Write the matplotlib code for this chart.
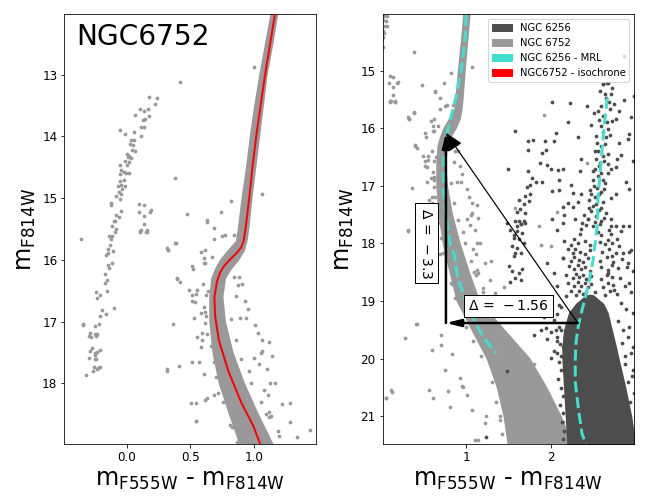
import numpy as np
import matplotlib.pyplot as plt
from matplotlib.patches import Patch

# colours
c6256 = '0.3'
c6752 = '0.6'
cMRL = 'turquoise'
cIso = 'red'

# NGC 6752 sequence (dense band, blue / red edges)
band_mag = [12.0, 12.5, 13.0, 13.5, 14.0, 14.5, 15.0, 15.5, 15.7, 15.85, 16.0, 16.15, 16.3, 16.6,
            17.0, 17.5, 18.0, 18.5, 19.0, 19.5, 20.0, 20.5, 21.0, 21.5]
band_blue = [1.14, 1.095, 1.05, 1.01, 0.975, 0.945, 0.91, 0.88, 0.865, 0.80, 0.74, 0.70, 0.67, 0.655,
             0.655, 0.68, 0.73, 0.81, 0.895, 1.07, 1.25, 1.37, 1.45, 1.50]
band_red = [1.19, 1.15, 1.105, 1.075, 1.045, 1.015, 0.985, 0.96, 0.945, 0.925, 0.88, 0.82, 0.775, 0.755,
            0.775, 0.835, 0.925, 1.035, 1.155, 1.45, 1.75, 1.95, 2.12, 2.26]

# NGC 6752 isochrone
iso_mag = [12.0, 12.5, 13.0, 13.5, 14.0, 14.5, 15.0, 15.5, 15.7, 15.8, 15.9, 16.0, 16.1, 16.2,
           16.35, 16.6, 16.9, 17.3, 17.8, 18.3, 18.7, 19.0]
iso_col = [1.17, 1.13, 1.09, 1.055, 1.02, 0.99, 0.965, 0.935, 0.92, 0.90, 0.86, 0.81, 0.765, 0.735,
           0.71, 0.69, 0.695, 0.725, 0.80, 0.90, 1.00, 1.055]

# NGC 6752 horizontal branch
hb_col = [0.171, 0.233, 0.219, 0.098, 0.132, 0.163, 0.066, 0.171, 0.140, 0.124, 0.106, 0.132,
          -0.059, -0.013, 0.053, 0.108, 0.032, 0.058, 0.021, 0.048, 0.040, 0.060, 0.0, 0.018,
          0.008, 0.029, -0.019, 0.018, 0.0, -0.059, -0.045, -0.027, -0.006, 0.013, -0.053,
          -0.059, -0.027, -0.048, -0.019, -0.071, -0.040, -0.067, -0.045, -0.087, -0.059,
          -0.130, -0.130, -0.051, -0.087, -0.067, -0.106, -0.093, -0.119, -0.087, -0.093,
          -0.146, -0.119, -0.125, -0.138, -0.154, -0.114, -0.154, -0.164, -0.122, -0.154,
          -0.146, -0.172, -0.162, -0.172, -0.249, -0.217, -0.162, -0.241, -0.106, -0.202,
          -0.170, -0.217, -0.352, -0.352, -0.225, -0.257, -0.297, -0.299, -0.286, -0.257,
          -0.238, -0.244, -0.281, -0.217, -0.297, -0.257, -0.238, -0.257, -0.305, -0.257,
          -0.244, -0.265, -0.233, -0.212, -0.238, -0.273, -0.321, -0.365]
hb_mag = [13.36, 13.37, 13.47, 13.55, 13.59, 13.55, 13.66, 13.67, 13.71, 13.73, 13.84, 13.84,
          13.90, 13.96, 13.93, 13.99, 14.06, 14.06, 14.12, 14.14, 14.22, 14.23, 14.28, 14.31,
          14.34, 14.35, 14.39, 14.41, 14.46, 14.47, 14.55, 14.57, 14.60, 14.59, 14.61,
          14.72, 14.71, 14.78, 14.80, 14.81, 14.85, 14.90, 14.93, 14.96, 15.01,
          15.07, 15.11, 15.20, 15.27, 15.31, 15.37, 15.37, 15.45, 15.50, 15.54,
          15.61, 15.62, 15.66, 15.76, 15.82, 15.86, 15.89, 15.92, 16.05, 16.08,
          16.13, 16.23, 16.33, 16.38, 16.52, 16.56, 16.51, 16.62, 16.77, 16.81,
          16.88, 16.91, 17.03, 17.06, 17.03, 17.07, 17.19, 17.23, 17.25, 17.20,
          17.20, 17.23, 17.42, 17.45, 17.48, 17.50, 17.49, 17.54, 17.58, 17.61,
          17.61, 17.73, 17.75, 17.73, 17.77, 17.80, 17.87, 15.66]

# NGC 6752 scattered stars
fld_col = [0.418, 0.378, 0.137, 0.092, 0.179, 0.132, 0.098, 0.153, 0.098, 0.155, 0.32, 0.378,
           0.362, 0.312, 0.471, 0.635, 0.740, 0.820, 0.322, 0.383, 0.687, 0.775, 0.613, 0.608,
           0.616, 0.516, 0.521, 0.397, 0.415, 0.489, 0.510, 0.537, 0.600, 0.542, 0.608, 0.616,
           0.616, 0.556, 0.595, 0.582, 0.510, 0.568, 0.410, 0.608, 0.502, 0.542, 0.613, 0.635,
           0.687, 0.722, 0.542, 1.0, 1.066, 0.846, 0.846, 0.886, 0.873, 0.86, 0.939, 0.894,
           1.037, 1.005, 1.058, 1.143, 1.063, 1.124, 1.044, 1.129, 1.290, 1.124, 1.195, 1.449,
           1.11, 1.098, 1.137, 0.815, 0.548,
           0.095, 0.187, 0.135, 0.155, 0.107, 0.313, 0.631, 0.69, 0.75, 0.583, 0.67, 0.611,
           0.393, 0.551, 0.623, 0.512, 0.583, 0.532, 0.313, 0.592, 0.929, 0.956, 1.008,
           1.067, 0.908, 1.107, 1.167, 1.226, 1.286, 1.345, 1.92, 1.58, 2.43, 1.86, 2.08,
           0.413, 0.274, 0.592, 0.75, 0.056, 0.115, 0.611, 0.948, 1.008, 1.067, 1.226, 1.107,
           1.405, 0.405, 0.702, 0.829, 0.929, 0.960, 0.048, 0.127, 0.563, 0.79, 0.81, 1.238,
           1.139, 0.698, 1.88, 2.0,
           0.63, 0.62, 0.64, 0.82, 0.86, 0.90, 0.98, 1.06, 1.12, 1.20, 0.70, 0.76, 0.83, 0.87,
           0.69, 0.66, 1.08, 0.96,
           1.30, 1.35, 1.40, 1.42, 1.97, 2.02, 2.15, 2.20, 1.80, 1.85, 1.50, 1.55, 1.00, 1.08,
           1.18]
fld_mag = [13.12, 14.67, 15.11, 15.22, 15.22, 15.42, 15.53, 15.55, 15.54, 15.55, 15.84, 15.73,
           17.04, 17.79, 15.25, 15.36, 15.22, 15.04, 15.84, 15.72, 15.66, 15.60, 15.84, 15.97,
           16.05, 16.09, 16.15, 16.29, 16.35, 16.49, 16.57, 16.68, 16.39, 16.55, 16.76, 16.84,
           17.02, 17.24, 17.19, 17.41, 17.65, 17.65, 17.71, 17.85, 18.32, 18.31, 18.27, 18.23,
           18.19, 18.16, 18.60, 12.87, 14.94, 15.59, 16.27, 16.28, 16.40, 16.59, 16.94, 16.94,
           17.19, 17.58, 17.51, 17.55, 17.30, 17.33, 17.68, 18.0, 18.31, 18.46, 18.77, 18.76,
           18.18, 18.49, 18.52, 18.68, 18.61,
           15.09, 15.19, 15.29, 15.52, 15.52, 15.81, 15.38, 15.48, 15.61, 15.87, 15.96, 16.05,
           16.31, 16.48, 16.57, 16.66, 16.86, 16.94, 17.77, 17.29, 16.66, 16.80, 17.06,
           17.47, 16.39, 17.76, 17.99, 18.34, 18.63, 18.86, 15.77, 17.38, 16.61, 17.70, 17.46,
           19.40, 19.64, 19.84, 20.19, 20.68, 20.54, 20.68, 20.48, 20.63, 20.89, 21.12, 21.41,
           21.06, 19.40, 19.77, 19.92, 20.33, 20.49, 20.68, 20.57, 20.54, 20.56, 20.83, 20.99,
           21.41, 19.58, 18.02, 18.05,
           17.2, 16.9, 16.5, 16.95, 17.3, 17.6, 18.0, 18.3, 18.55, 18.85, 17.9, 18.3, 18.7, 18.95,
           17.65, 17.4, 18.1, 17.8,
           20.4, 20.75, 21.0, 21.3, 20.6, 20.85, 21.1, 21.3, 20.1, 20.3, 19.75, 19.9, 19.45, 19.7,
           19.95]

# NGC 6256 dense main sequence / lower RGB
n6256_mag = [18.9, 19.05, 19.2, 19.5, 19.8, 20.0, 20.5, 21.0, 21.5]
n6256_blue = [2.42, 2.30, 2.22, 2.16, 2.14, 2.14, 2.16, 2.18, 2.20]
n6256_red = [2.50, 2.62, 2.67, 2.72, 2.77, 2.80, 2.88, 2.95, 3.0]

# NGC 6256 scattered stars (field, HB clump, edges of the dense part)
n6256_col = [2.02, 2.23, 2.43, 2.87, 2.95, 1.58, 2.20, 2.48, 2.06, 1.79, 1.73, 1.93, 2.04, 2.32,
             2.93, 2.81, 1.73, 1.94, 1.90, 2.36, 2.79, 2.97, 1.87, 1.96, 1.50, 1.73, 2.00, 2.09,
             2.14, 2.35, 2.77, 1.78, 2.10, 1.90, 1.82, 1.76, 1.72, 2.24, 2.89, 2.93, 2.02, 2.10,
             2.26, 2.36, 1.76, 1.70, 2.48, 2.77, 1.62, 1.74, 1.68, 2.20, 2.32, 2.14, 2.26, 1.64,
             1.69, 2.01, 2.16, 2.29, 2.37, 2.44, 2.71, 1.62, 1.65, 1.70, 1.60, 2.85, 2.14,
             2.81, 2.77, 2.91, 2.83, 2.71, 2.99, 2.87,
             1.484, 1.583, 1.643, 1.683, 1.524, 1.603, 1.663, 1.563, 1.623, 1.683, 1.544, 1.603,
             1.583, 1.643, 1.563, 1.504, 1.544, 1.623, 1.583, 1.643, 1.524, 1.663, 1.60, 1.57,
             1.96, 2.04, 2.14, 2.08, 2.18, 2.10, 2.0, 1.92, 2.04, 2.12, 1.88, 1.80,
             2.79, 2.85, 2.91, 2.93, 2.75, 2.83, 2.97, 2.77, 2.93, 2.68, 2.73,
             2.95, 2.93, 2.97, 2.89, 2.12, 2.08,
             1.94, 2.0, 2.06, 1.96, 2.08, 2.14, 2.04, 2.12, 2.0,
             2.93, 2.97, 2.88, 2.96, 1.484, 1.238,
             2.10, 2.08, 2.11, 2.07, 2.10, 2.12, 2.09, 2.12, 2.14, 2.11, 2.15, 2.13, 2.16, 2.14,
             2.80, 2.86, 2.92, 2.84, 2.95, 2.88, 2.97, 2.92, 2.98, 2.94]
n6256_pmag = [15.55, 15.57, 15.62, 15.51, 15.81, 16.05, 15.90, 15.95, 16.09, 16.20, 16.23, 16.22,
              16.22, 16.16, 16.10, 16.25, 16.38, 16.38, 16.43, 16.53, 16.54, 16.57, 16.61, 16.64,
              16.71, 16.74, 16.71, 16.72, 16.70, 16.74, 16.68, 16.86, 16.89, 16.93, 16.94, 16.99,
              17.02, 16.99, 16.94, 17.06, 17.09, 17.08, 17.12, 17.14, 17.15, 17.18, 17.15, 17.15,
              17.25, 17.26, 17.32, 17.29, 17.28, 17.36, 17.37, 17.41, 17.47, 17.57, 17.50, 17.58,
              17.65, 17.58, 17.58, 17.61, 17.67, 17.64, 17.70, 17.70, 17.65,
              15.70, 15.84, 16.19, 16.46, 16.70, 15.44, 14.74,
              17.64, 17.61, 17.67, 17.61, 17.76, 17.79, 17.81, 17.90, 17.93, 17.99, 18.05, 18.08,
              18.16, 18.16, 18.22, 18.39, 18.48, 18.51, 18.60, 18.63, 18.66, 18.45, 17.45, 17.85,
              18.34, 18.51, 18.25, 18.74, 18.92, 19.06, 19.15, 19.27, 19.32, 19.50, 19.50, 19.58,
              17.93, 18.16, 18.34, 18.68, 18.80, 19.03, 19.21, 17.70, 17.70, 18.51, 18.22,
              18.84, 18.15, 18.48, 19.13, 19.10, 19.22,
              19.47, 19.53, 19.50, 19.66, 19.70, 19.79, 19.87, 19.96, 19.99,
              19.45, 19.80, 19.95, 20.30, 20.22, 21.35,
              19.45, 19.62, 19.75, 19.90, 20.05, 20.20, 20.35, 20.50, 20.65, 20.80, 20.95, 21.10,
              21.25, 21.40,
              19.35, 19.50, 19.62, 19.72, 19.90, 20.10, 20.20, 20.40, 20.60, 20.75]

# NGC 6256 red giant branch stars
rgb_col = [2.62, 2.67, 2.615, 2.675, 2.71, 2.64, 2.69, 2.75, 2.555, 2.615, 2.73, 2.515, 2.60,
           2.675, 2.535, 2.655, 2.60, 2.555, 2.675, 2.535, 2.635, 2.575, 2.497, 2.675, 2.555,
           2.615, 2.515, 2.635, 2.575, 2.71, 2.456, 2.535, 2.60, 2.476, 2.655, 2.535, 2.437,
           2.60, 2.497, 2.71, 2.397,
           2.58, 2.72, 2.65, 2.60, 2.70, 2.57, 2.66, 2.62, 2.70, 2.55, 2.64, 2.52, 2.62, 2.58,
           2.68, 2.52, 2.60, 2.50, 2.64, 2.55, 2.60, 2.47, 2.52, 2.62, 2.50, 2.57, 2.45, 2.63,
           2.52, 2.42, 2.58,
           2.08, 2.35, 2.36, 2.56, 2.60, 2.69, 2.71, 2.83,
           2.16, 2.24, 2.28, 2.32, 2.40, 2.46, 2.58, 2.64, 2.68, 2.73, 2.81,
           2.20, 2.26, 2.29, 2.35, 2.41, 2.47, 2.61, 2.69, 2.77, 2.95,
           2.14, 2.24, 2.28, 2.34, 2.38, 2.44, 2.58, 2.66, 2.74, 2.84,
           2.22, 2.28, 2.32, 2.36, 2.40, 2.46, 2.60, 2.68, 2.72, 2.80, 2.90,
           2.18, 2.26, 2.30, 2.34, 2.38, 2.42, 2.48, 2.60, 2.66, 2.72, 2.82,
           2.20, 2.28, 2.32, 2.36, 2.40, 2.44, 2.48, 2.62, 2.68, 2.74, 2.88,
           2.24, 2.30, 2.34, 2.38, 2.42, 2.46, 2.52, 2.64, 2.70, 2.78]
rgb_mag = [15.23, 15.22, 15.23, 15.22, 15.41, 15.41, 15.55, 15.58, 15.70, 15.79, 15.87, 15.73,
           15.96, 16.02, 16.13, 16.16, 16.31, 16.39, 16.45, 16.54, 16.57, 16.66, 16.74, 16.77,
           16.83, 16.89, 17.0, 17.06, 17.15, 17.21, 17.24, 17.32, 17.38, 17.44, 17.47, 17.53,
           17.58, 17.61, 17.70, 17.70, 17.50,
           15.35, 15.30, 15.48, 15.62, 15.66, 15.85, 15.90, 16.07, 16.12, 16.25, 16.28, 16.40,
           16.48, 16.60, 16.62, 16.70, 16.78, 16.90, 16.95, 17.03, 17.10, 17.08, 17.20, 17.28,
           17.35, 17.42, 17.38, 17.55, 17.62, 17.68, 17.67,
           17.76, 17.83, 17.75, 17.80, 17.86, 17.77, 17.84, 17.79,
           17.95, 18.02, 17.93, 18.00, 17.96, 18.03, 17.97, 18.01, 17.94, 17.99, 18.04,
           18.10, 18.16, 18.09, 18.14, 18.18, 18.11, 18.15, 18.10, 18.17, 18.12,
           18.25, 18.31, 18.24, 18.29, 18.33, 18.26, 18.30, 18.24, 18.32, 18.27,
           18.39, 18.45, 18.38, 18.44, 18.40, 18.47, 18.41, 18.46, 18.38, 18.43, 18.40,
           18.54, 18.60, 18.53, 18.59, 18.55, 18.62, 18.56, 18.61, 18.54, 18.58, 18.60,
           18.68, 18.74, 18.67, 18.73, 18.69, 18.76, 18.70, 18.75, 18.68, 18.72, 18.74,
           18.83, 18.89, 18.82, 18.88, 18.84, 18.91, 18.85, 18.90, 18.83, 18.87]

# NGC 6256 mean ridge line
mrl_mag = [15.47, 16.0, 16.6, 17.2, 17.7, 18.3, 18.75, 19.1, 19.4, 19.7, 20.0, 20.4, 20.9,
           21.3, 21.5, 21.9, 22.45, 22.9, 23.2]
mrl_col = [2.67, 2.63, 2.595, 2.56, 2.55, 2.50, 2.44, 2.38, 2.33, 2.30, 2.29, 2.29, 2.33,
           2.37, 2.42, 2.46, 2.59, 2.75, 2.91]

# shift between the two clusters
ref_col, ref_mag = 2.32, 19.38
d_col, d_mag = -1.56, -3.3

ms = 14


def draw_6752(ax):
    ax.fill_betweenx(band_mag, band_blue, band_red, color=c6752, lw=1.5, zorder=1)
    ax.scatter(hb_col, hb_mag, s=ms, color=c6752, lw=0, zorder=1)
    ax.scatter(fld_col, fld_mag, s=ms, color=c6752, lw=0, zorder=1)


fig, (ax1, ax2) = plt.subplots(1, 2, figsize=(9, 7), dpi=72)
fig.subplots_adjust(left=0.0995, right=0.979, bottom=0.119, top=0.972, wspace=0.263)

xlab = r'm$_{\rm F555W}$ - m$_{\rm F814W}$'
ylab = r'm$_{\rm F814W}$'

# left panel
draw_6752(ax1)
ax1.plot(iso_col, iso_mag, color=cIso, lw=2, zorder=3)
ax1.text(0.045, 0.928, 'NGC6752', transform=ax1.transAxes, fontsize=28)
ax1.set_xlim(-0.495, 1.495)
ax1.set_ylim(18.98, 12.02)
ax1.set_xticks([0.0, 0.5, 1.0])

# right panel
draw_6752(ax2)
ax2.fill_betweenx(n6256_mag, n6256_blue, n6256_red, color=c6256, lw=1.5, zorder=2)
ax2.scatter(n6256_col, n6256_pmag, s=ms, color=c6256, lw=0, zorder=2)
ax2.scatter(rgb_col, rgb_mag, s=ms, color=c6256, lw=0, zorder=2)
ax2.plot(mrl_col, mrl_mag, color=cMRL, lw=3, ls='--', zorder=3)
ax2.plot(np.array(mrl_col) + d_col, np.array(mrl_mag) + d_mag, color=cMRL, lw=3, ls='--', zorder=3)

ax2.annotate('', xy=(ref_col + d_col, ref_mag), xytext=(ref_col, ref_mag),
             arrowprops=dict(arrowstyle='-|>,head_length=0.6,head_width=0.15', lw=2.5,
                             color='k', mutation_scale=20, shrinkA=0, shrinkB=0), zorder=5)
ax2.annotate('', xy=(ref_col + d_col, ref_mag + d_mag), xytext=(ref_col + d_col, ref_mag),
             arrowprops=dict(arrowstyle='-|>,head_length=0.6,head_width=0.15', lw=2.5,
                             color='k', mutation_scale=20, shrinkA=0, shrinkB=0), zorder=5)
ax2.annotate('', xy=(ref_col + d_col, ref_mag + d_mag), xytext=(ref_col, ref_mag),
             arrowprops=dict(arrowstyle='-|>,head_length=0.75,head_width=0.3', lw=1.2,
                             color='k', mutation_scale=20, shrinkA=0, shrinkB=0), zorder=5)

bbox = dict(boxstyle='square,pad=0.3', fc='white', ec='k')
ax2.text(1.5, 19.08, r'$\Delta\,=\,%s$' % d_col, fontsize=14, ha='center', va='center',
         bbox=bbox, zorder=6)
ax2.text(0.53, 18.0, r'$\Delta\,=\,%s$' % d_mag, fontsize=14, ha='center', va='center',
         rotation=-90, bbox=bbox, zorder=6)

handles = [Patch(color=c6256, label='NGC 6256'), Patch(color=c6752, label='NGC 6752'),
           Patch(color=cMRL, label='NGC 6256 - MRL'), Patch(color=cIso, label='NGC6752 - isochrone')]
ax2.legend(handles=handles, loc='upper right', fontsize=10)
ax2.set_xlim(0.01, 2.99)
ax2.set_ylim(21.48, 14.02)
ax2.set_xticks([1, 2])

for ax in (ax1, ax2):
    ax.set_xlabel(xlab, fontsize=24)
    ax.set_ylabel(ylab, fontsize=24)
    ax.tick_params(labelsize=12)

fig.savefig('out.png', dpi=72)
